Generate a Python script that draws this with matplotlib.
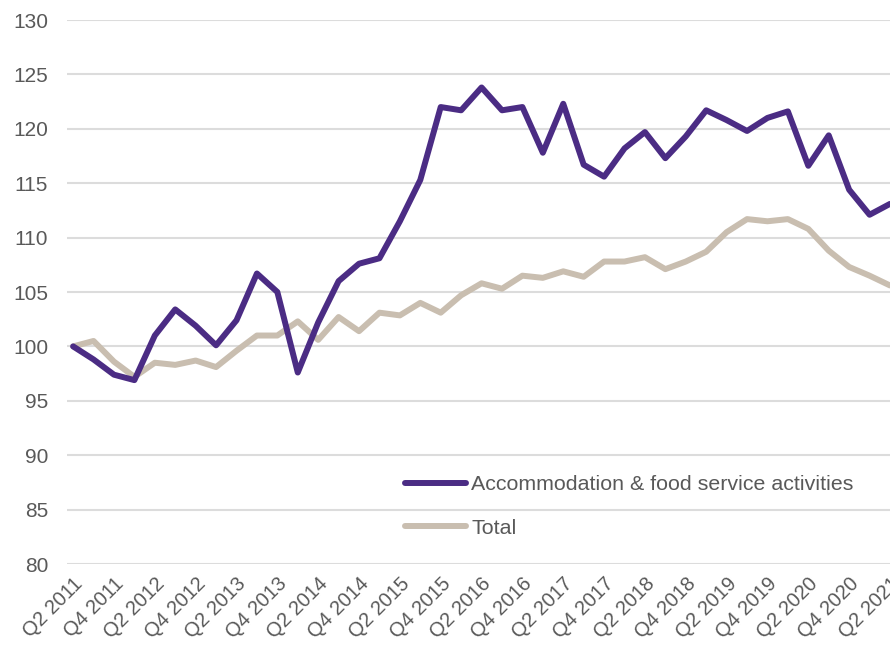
import matplotlib
import matplotlib.pyplot as plt

matplotlib.use('Agg')

# quarterly index, Q2 2011 = 100
quarters = []
for yr in range(2011, 2022):
    for q in (1, 2, 3, 4):
        quarters.append(f'Q{q} {yr}')
quarters = quarters[1:quarters.index('Q2 2021') + 1]

accommodation = [100.0, 98.8, 97.4, 96.9, 101.0, 103.4, 101.9, 100.1, 102.4, 106.7,
                 105.0, 97.6, 102.2, 106.0, 107.6, 108.1, 111.5, 115.3, 122.0, 121.7,
                 123.8, 121.7, 122.0, 117.8, 122.3, 116.7, 115.6, 118.2, 119.7, 117.3,
                 119.3, 121.7, 120.8, 119.8, 121.0, 121.6, 116.6, 119.4, 114.4, 112.1,
                 113.1]
total = [100.0, 100.5, 98.6, 97.2, 98.5, 98.3, 98.7, 98.1, 99.6, 101.0,
         101.0, 102.3, 100.6, 102.7, 101.4, 103.1, 102.85, 104.0, 103.1, 104.7,
         105.8, 105.3, 106.5, 106.3, 106.9, 106.4, 107.8, 107.8, 108.2, 107.1,
         107.8, 108.7, 110.5, 111.7, 111.5, 111.7, 110.8, 108.8, 107.3, 106.5,
         105.6]

PURPLE = '#4B2C84'
BEIGE = '#C9BEB0'
TXT = '#595959'

plt.rcParams['font.family'] = ['Liberation Sans', 'DejaVu Sans']

fig = plt.figure(figsize=(8.9, 6.48), dpi=100)
ax = fig.add_axes([67 / 890, 1 - 564 / 648, 1 - 67 / 890, 544 / 648])

x = list(range(len(quarters)))
ax.plot(x, accommodation, color=PURPLE, lw=4.3, solid_capstyle='round',
        solid_joinstyle='round', label='Accommodation & food service activities', zorder=3)
ax.plot(x, total, color=BEIGE, lw=4.3, solid_capstyle='round',
        solid_joinstyle='round', label='Total', zorder=2)

ax.set_ylim(80, 130)
ax.set_xlim(-0.3, len(quarters) - 1)
ax.set_yticks(range(80, 131, 5))
ax.grid(axis='y', color='#DCDCDC', lw=1.5)
ax.set_axisbelow(True)
for s in ax.spines.values():
    s.set_visible(False)

ax.set_xticks(x[::2])
ax.set_xticklabels(quarters[::2], rotation=45, ha='right', va='top',
                   rotation_mode='anchor', fontsize=14.5, color=TXT)
ax.tick_params(axis='x', length=0, pad=7)
ax.tick_params(axis='y', length=0, pad=13.5, labelsize=15, labelcolor=TXT)

leg = ax.legend(loc='upper left', bbox_to_anchor=(405 / 890, 1 - 475 / 648),
                bbox_transform=fig.transFigure, frameon=False, fontsize=15.4,
                handlelength=2.85, handletextpad=0.25, labelspacing=1.15,
                borderpad=0, borderaxespad=0)
for t in leg.get_texts():
    t.set_color(TXT)

fig.savefig('out.png', dpi=100)
